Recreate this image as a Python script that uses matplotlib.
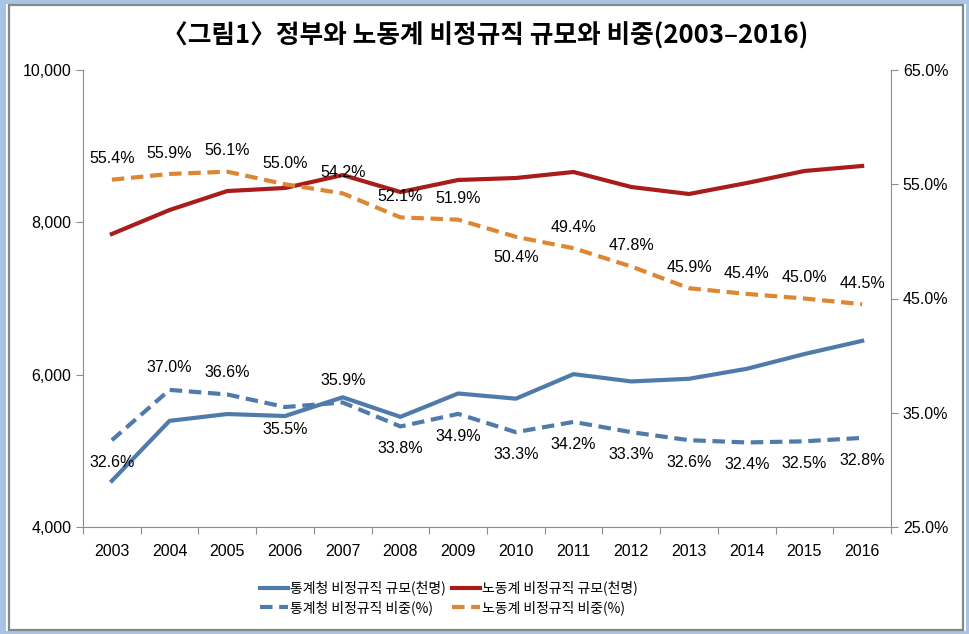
import numpy as np
import matplotlib.pyplot as plt
from matplotlib.patches import Rectangle

plt.rcParams['font.family'] = ['Liberation Sans', 'Noto Sans CJK KR', 'DejaVu Sans']

# 데이터
years = ['2003', '2004', '2005', '2006', '2007', '2008', '2009',
         '2010', '2011', '2012', '2013', '2014', '2015', '2016']
stat_size = [4606, 5394, 5483, 5457, 5703, 5446, 5753,
             5685, 6007, 5911, 5946, 6077, 6271, 6444]
labor_size = [7847, 8162, 8411, 8451, 8621, 8398, 8556,
              8582, 8661, 8464, 8372, 8516, 8674, 8740]
stat_ratio = [32.6, 37.0, 36.6, 35.5, 35.9, 33.8, 34.9,
              33.3, 34.2, 33.3, 32.6, 32.4, 32.5, 32.8]
labor_ratio = [55.4, 55.9, 56.1, 55.0, 54.2, 52.1, 51.9,
               50.4, 49.4, 47.8, 45.9, 45.4, 45.0, 44.5]

# 라벨 위치 (1 = 위, -1 = 아래)
stat_pos = [-1, 1, 1, -1, 1, -1, -1, -1, -1, -1, -1, -1, -1, -1]
labor_pos = [1, 1, 1, 1, 1, 1, 1, -1, 1, 1, 1, 1, 1, 1]

blue = '#4f7bab'
red = '#a81c1c'
orange = '#dd8633'
grey = '#8c8c8c'

x = np.arange(len(years))

fig = plt.figure(figsize=(9.7, 6.34), dpi=100)
fig.patches.append(Rectangle((0, 0), 1, 1, transform=fig.transFigure,
                             facecolor='#a9c3e2', edgecolor='none', zorder=-3))
fig.patches.append(Rectangle((6 / 970, 3 / 634), 960 / 970, 627 / 634, transform=fig.transFigure,
                             facecolor='white', edgecolor='none', zorder=-2))
fig.patches.append(Rectangle((9 / 970, 4 / 634), 954 / 970, 625 / 634, transform=fig.transFigure,
                             facecolor='white', edgecolor='#7f8a8a', linewidth=1.6, zorder=-1))

ax1 = fig.add_axes([83 / 970, 107 / 634, 808 / 970, 457 / 634])
ax2 = ax1.twinx()

ax1.plot(x, stat_size, color=blue, lw=3, label='통계청 비정규직 규모(천명)')
ax1.plot(x, labor_size, color=red, lw=3, label='노동계 비정규직 규모(천명)')
ax2.plot(x, stat_ratio, color=blue, lw=3, ls=(0, (3, 1.6)), label='통계청 비정규직 비중(%)')
ax2.plot(x, labor_ratio, color=orange, lw=3, ls=(0, (3, 1.6)), label='노동계 비정규직 비중(%)')

for xi, v, p in zip(x, stat_ratio, stat_pos):
    ax2.annotate(f'{v:.1f}%', (xi, v), xytext=(0, 16 * p), textcoords='offset points',
                 ha='center', va='center', fontsize=11.5)
for xi, v, p in zip(x, labor_ratio, labor_pos):
    ax2.annotate(f'{v:.1f}%', (xi, v), xytext=(0, 15 * p), textcoords='offset points',
                 ha='center', va='center', fontsize=11.5)

ax1.set_xlim(-0.5, len(years) - 0.5)
ax1.set_ylim(4000, 10000)
ax1.set_yticks([4000, 6000, 8000, 10000])
ax1.set_yticklabels(['4,000', '6,000', '8,000', '10,000'])
ax2.set_ylim(25, 65)
ax2.set_yticks([25, 35, 45, 55, 65])
ax2.set_yticklabels(['25.0%', '35.0%', '45.0%', '55.0%', '65.0%'])

ax1.set_xticks(np.arange(-0.5, len(years)), labels=[''] * (len(years) + 1))
ax1.set_xticks(x, labels=years, minor=True)
ax1.tick_params(axis='x', which='major', length=5, color=grey)
ax1.tick_params(axis='x', which='minor', length=0, pad=12, labelsize=11.5)
ax1.tick_params(axis='y', length=5, color=grey, labelsize=11.5)
ax2.tick_params(axis='y', length=5, color=grey, labelsize=11.5)

for a in (ax1, ax2):
    a.spines['top'].set_visible(False)
    for s in ('left', 'right', 'bottom'):
        a.spines[s].set_color(grey)
ax1.spines['right'].set_visible(False)
ax2.spines['left'].set_visible(False)
ax2.spines['bottom'].set_visible(False)

fig.text(0.5, 1 - 36 / 634, '〈그림1〉정부와 노동계 비정규직 규모와 비중(2003–2016)',
         ha='center', va='center', fontsize=18.5, fontweight='bold',
         family=['Noto Sans CJK KR', 'DejaVu Sans'])

h1, l1 = ax1.get_legend_handles_labels()
h2, l2 = ax2.get_legend_handles_labels()
handles = [h1[0], h2[0], h1[1], h2[1]]
labels = [l1[0], l2[0], l1[1], l2[1]]
fig.legend(handles, labels, ncol=2, loc='center', bbox_to_anchor=(449 / 970, 1 - 598 / 634),
           frameon=False, handlelength=2.0, handletextpad=0.2,
           columnspacing=0.4, labelspacing=0.35,
           prop={'family': ['Noto Sans CJK KR', 'DejaVu Sans'], 'size': 10})

fig.savefig('out.png', dpi=100)
